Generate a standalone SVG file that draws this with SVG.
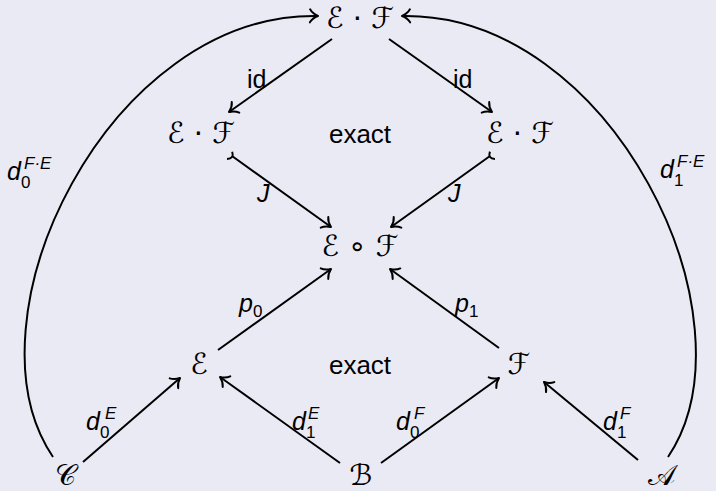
<svg xmlns="http://www.w3.org/2000/svg" width="716" height="491" viewBox="0 0 716 491">
<style>
  .bg { fill: #eaeaf5; }
  .node { font-family: "DejaVu Sans", "DejaVu Serif", serif; font-size: 29px; fill: #000; text-anchor: middle; }
  .word { font-family: "Liberation Sans", "DejaVu Sans", sans-serif; font-size: 26px; fill: #000; text-anchor: middle; }
  .lab { font-family: "Liberation Sans", "DejaVu Sans", sans-serif; font-size: 25px; fill: #000; }
  .it { font-style: italic; }
  .sm { font-size: 17px; }
  .edge { fill: none; stroke: #000; stroke-width: 2; }
  .tip { fill: none; stroke: #000; stroke-width: 2; stroke-linecap: round; stroke-linejoin: round; }
</style>
<defs>
  <marker id="to" markerUnits="userSpaceOnUse" viewBox="-12 -8 14 16" refX="0" refY="0" markerWidth="14" markerHeight="16" orient="auto" overflow="visible">
    <path class="tip" d="M -8 -6.5 C -6 -3, -2 -0.8, 0 0 C -2 0.8, -6 3, -8 6.5"/>
  </marker>
</defs>
<rect class="bg" x="0" y="0" width="716" height="491"/>

<g id="connectors">
  <path class="edge" d="M 53 457 C -40 320, 108 12, 318 16" marker-end="url(#to)"/>
  <path class="edge" d="M 668 457 C 760 320, 612 12, 402 16" marker-end="url(#to)"/>
  <line class="edge" x1="332" y1="39" x2="229" y2="112" marker-end="url(#to)"/>
  <line class="edge" x1="389" y1="39" x2="492" y2="112" marker-end="url(#to)"/>
  <line class="edge" x1="232" y1="156" x2="331" y2="227" marker-end="url(#to)"/>
  <path class="edge" d="M 227 158.9 Q 234.4 158.7 232.2 151.7"/>
  <line class="edge" x1="490" y1="156" x2="391" y2="227" marker-end="url(#to)"/>
  <path class="edge" d="M 495 159 Q 487.6 158.7 489.9 151.6"/>
  <line class="edge" x1="218" y1="350" x2="331" y2="269" marker-end="url(#to)"/>
  <line class="edge" x1="499" y1="348" x2="390" y2="269" marker-end="url(#to)"/>
  <line class="edge" x1="83" y1="462" x2="180" y2="378" marker-end="url(#to)"/>
  <line class="edge" x1="340" y1="463" x2="220" y2="377" marker-end="url(#to)"/>
  <line class="edge" x1="381" y1="463" x2="499" y2="378" marker-end="url(#to)"/>
  <line class="edge" x1="638" y1="460" x2="544" y2="382" marker-end="url(#to)"/>

  <text class="lab" x="247" y="88">id</text>
  <text class="lab" x="453" y="88">id</text>
  <text class="lab it" x="257" y="202">J</text>
  <text class="lab it" x="448" y="202">J</text>
  <text class="lab it" x="239" y="312">p<tspan class="sm" x="253" y="317" font-style="normal">0</tspan></text>
  <text class="lab it" x="455" y="312">p<tspan class="sm" x="469" y="317" font-style="normal">1</tspan></text>
  <text class="lab it" x="86" y="430">d<tspan class="sm" x="100" y="438" font-style="normal">0</tspan><tspan class="sm" x="105" y="419">E</tspan></text>
  <text class="lab it" x="292" y="430">d<tspan class="sm" x="306" y="438" font-style="normal">1</tspan><tspan class="sm" x="308" y="419">E</tspan></text>
  <text class="lab it" x="396" y="430">d<tspan class="sm" x="410" y="438" font-style="normal">0</tspan><tspan class="sm" x="414" y="419">F</tspan></text>
  <text class="lab it" x="603" y="430">d<tspan class="sm" x="617" y="438" font-style="normal">1</tspan><tspan class="sm" x="620" y="419">F</tspan></text>
  <text class="lab it" x="7" y="180">d<tspan class="sm" x="21" y="188" font-style="normal">0</tspan><tspan class="sm" x="24" y="169">F·E</tspan></text>
  <text class="lab it" x="660" y="178">d<tspan class="sm" x="674" y="186" font-style="normal">1</tspan><tspan class="sm" x="677" y="167">F·E</tspan></text>
</g>

<g id="n-top"><text class="node" x="360" y="28">ℰ · ℱ</text></g>
<g id="n-midleft"><text class="node" x="201" y="143">ℰ · ℱ</text></g>
<g id="n-exact1"><text class="word" x="360" y="143">exact</text></g>
<g id="n-midright"><text class="node" x="520" y="143">ℰ · ℱ</text></g>
<g id="n-center"><text class="node" x="360" y="256">ℰ ∘ ℱ</text></g>
<g id="n-E"><text class="node" x="199" y="374">ℰ</text></g>
<g id="n-exact2"><text class="word" x="360" y="374">exact</text></g>
<g id="n-F"><text class="node" x="519" y="374">ℱ</text></g>
<g id="n-C"><text class="node" x="65" y="485">𝒞</text></g>
<g id="n-B"><text class="node" x="361" y="485">ℬ</text></g>
<g id="n-A"><text class="node" x="661" y="485">𝒜</text></g>
</svg>
